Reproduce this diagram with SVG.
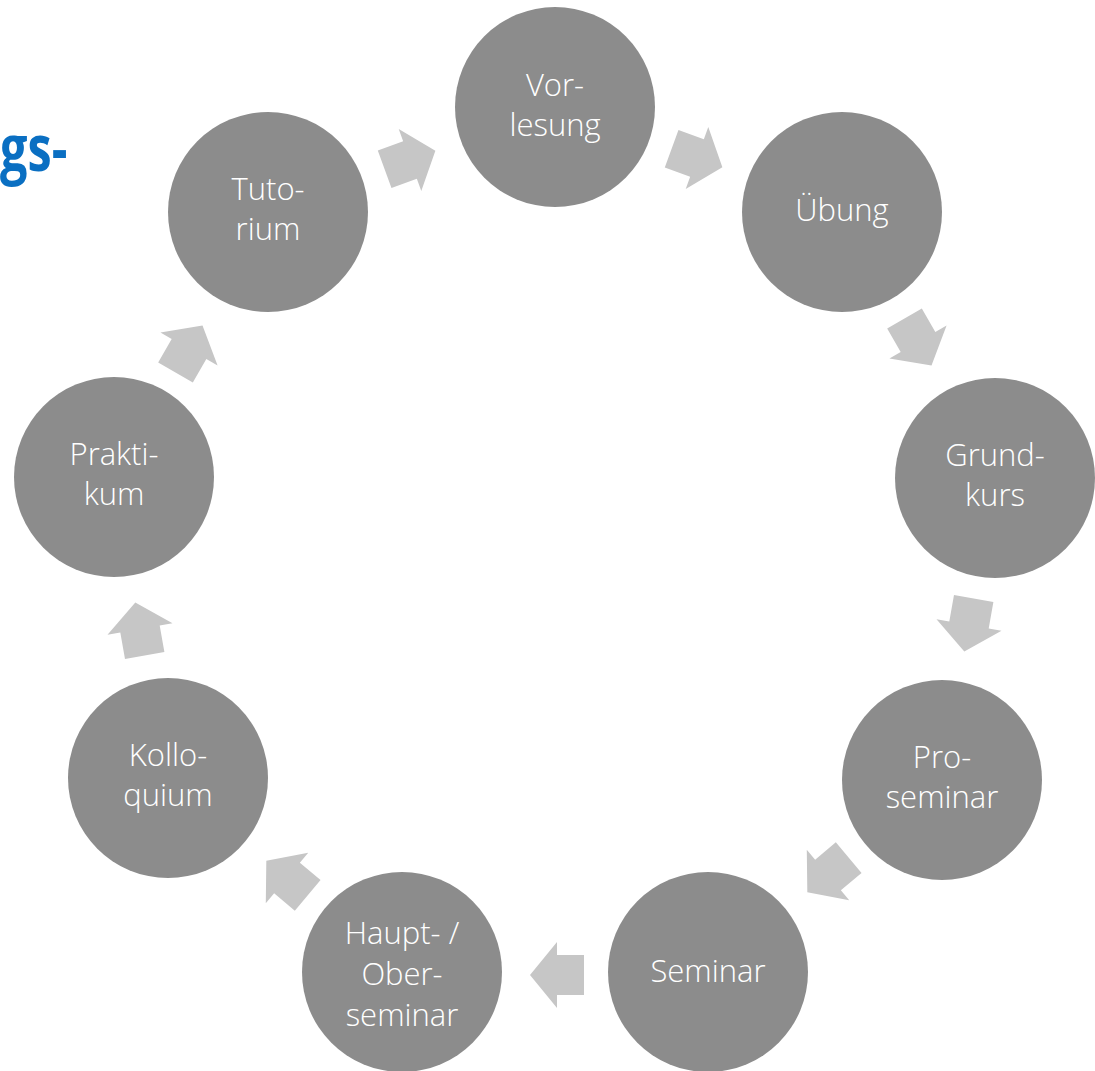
<svg xmlns="http://www.w3.org/2000/svg" width="1095" height="1071" viewBox="0 0 1095 1071">
<style>
.c{fill:#8c8c8c}
.t{fill:#ffffff;font-family:"Open Sans","Noto Sans",sans-serif;font-weight:300;font-size:31px;text-anchor:middle}
.a{fill:#c6c6c6}
.h{fill:#0a6fc2;font-family:"Open Sans","Noto Sans",sans-serif;font-weight:bold;font-size:64px}
</style>
<defs>
<path id="arr" d="M-27,-20 L0,-20 L0,-33 L27,0 L0,33 L0,20 L-27,20 Z"/>
</defs>
<rect width="1095" height="1071" fill="#ffffff"/>
<text class="h" x="0" y="171" transform="scale(0.76 1)">gs-</text>
<g id="connectors">
<use href="#arr" class="a" transform="translate(410 160) rotate(-20)"/>
<use href="#arr" class="a" transform="translate(697 158) rotate(20)"/>
<use href="#arr" class="a" transform="translate(918 342) rotate(60)"/>
<use href="#arr" class="a" transform="translate(969 625) rotate(100)"/>
<use href="#arr" class="a" transform="translate(828 875) rotate(140)"/>
<use href="#arr" class="a" transform="translate(557 975) rotate(180)"/>
<use href="#arr" class="a" transform="translate(287 878) rotate(220)"/>
<use href="#arr" class="a" transform="translate(140 629) rotate(260)"/>
<use href="#arr" class="a" transform="translate(189 349) rotate(300)"/>
</g>
<g id="vorlesung"><circle class="c" cx="555" cy="107" r="100"/><text class="t" x="555" y="96">Vor-</text><text class="t" x="555" y="136">lesung</text></g>
<g id="uebung"><circle class="c" cx="842" cy="212" r="100"/><text class="t" x="842" y="221">Übung</text></g>
<g id="grundkurs"><circle class="c" cx="995" cy="478" r="100"/><text class="t" x="995" y="466">Grund-</text><text class="t" x="995" y="506">kurs</text></g>
<g id="proseminar"><circle class="c" cx="942" cy="780" r="100"/><text class="t" x="942" y="768">Pro-</text><text class="t" x="942" y="808">seminar</text></g>
<g id="seminar"><circle class="c" cx="708" cy="972" r="100"/><text class="t" x="708" y="982">Seminar</text></g>
<g id="hauptseminar"><circle class="c" cx="402" cy="972" r="100"/><text class="t" x="402" y="944">Haupt- /</text><text class="t" x="402" y="985">Ober-</text><text class="t" x="402" y="1026">seminar</text></g>
<g id="kolloquium"><circle class="c" cx="168" cy="778" r="100"/><text class="t" x="168" y="766">Kollo-</text><text class="t" x="168" y="806">quium</text></g>
<g id="praktikum"><circle class="c" cx="114" cy="477" r="100"/><text class="t" x="114" y="465">Prakti-</text><text class="t" x="114" y="505">kum</text></g>
<g id="tutorium"><circle class="c" cx="268" cy="212" r="100"/><text class="t" x="268" y="200">Tuto-</text><text class="t" x="268" y="240">rium</text></g>
</svg>
